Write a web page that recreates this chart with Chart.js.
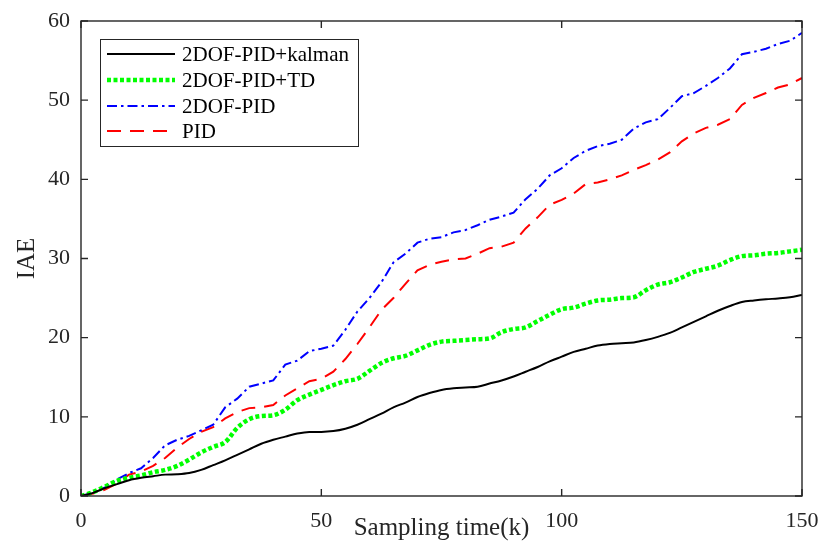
<!DOCTYPE html>
<html>
<head>
<meta charset="utf-8">
<script src="https://cdn.jsdelivr.net/npm/chart.js@4/dist/chart.umd.min.js"></script>
<style>
  html, body { margin: 0; padding: 0; background: #fff; }
  #wrap { width: 822px; height: 547px; }
</style>
</head>
<body>
<div id="wrap"><canvas id="iaeChart"></canvas></div>
<script>
// sampling instants, every 2.5 k
var kSteps = [];
for (var i = 0; i <= 60; i++) kSteps.push(i * 2.5);

var seriesNames = ['2DOF-PID+kalman', '2DOF-PID+TD', '2DOF-PID', 'PID'];

var iaeKalman = [0, 0.4, 1.0, 1.5, 2.0, 2.3, 2.5, 2.7, 2.75, 2.9, 3.3, 3.9, 4.5, 5.2, 5.9, 6.6, 7.1, 7.5, 7.9, 8.1,
  8.1, 8.2, 8.5, 9.0, 9.7, 10.4, 11.2, 11.8, 12.5, 13.0, 13.4, 13.6, 13.7, 13.8, 14.2, 14.6, 15.1, 15.7, 16.3, 17.0,
  17.6, 18.2, 18.6, 19.0, 19.2, 19.3, 19.4, 19.7, 20.1, 20.6, 21.3, 22.0, 22.7, 23.4, 24.0, 24.5, 24.7, 24.85, 24.95, 25.1, 25.4];

var iaeTD = [0, 0.5, 1.2, 1.9, 2.3, 2.6, 3.0, 3.3, 3.8, 4.6, 5.5, 6.2, 6.8, 8.6, 9.7, 10.1, 10.2, 10.9, 12.1, 12.8,
  13.4, 14.0, 14.5, 14.8, 15.8, 16.8, 17.4, 17.7, 18.4, 19.1, 19.5, 19.6, 19.7, 19.8, 19.9, 20.7, 21.1, 21.3, 22.1, 22.9,
  23.6, 23.8, 24.3, 24.7, 24.8, 25.0, 25.1, 26.0, 26.7, 27.0, 27.6, 28.3, 28.7, 29.1, 29.8, 30.3, 30.4, 30.6, 30.7, 30.9, 31.1];

var iae2dof = [0, 0.4, 1.1, 2.1, 2.9, 3.5, 4.8, 6.4, 7.1, 7.6, 8.3, 9.0, 11.2, 12.3, 13.8, 14.2, 14.6, 16.6, 17.1, 18.3,
  18.6, 19.0, 21.0, 23.3, 25.0, 27.0, 29.5, 30.6, 32.0, 32.5, 32.7, 33.3, 33.6, 34.2, 34.9, 35.3, 35.8, 37.5, 38.8, 40.5,
  41.4, 42.7, 43.6, 44.2, 44.5, 45.0, 46.4, 47.2, 47.6, 49.0, 50.5, 50.9, 51.8, 52.8, 54.0, 55.8, 56.1, 56.5, 57.1, 57.5, 58.5];

var iaePID = [0, 0.3, 0.8, 1.6, 2.7, 3.1, 3.8, 4.8, 6.1, 7.2, 8.1, 8.7, 9.8, 10.6, 11.1, 11.2, 11.5, 12.7, 13.6, 14.5,
  14.8, 15.7, 17.3, 19.2, 21.3, 23.5, 25.0, 26.8, 28.5, 29.2, 29.6, 29.9, 30.0, 30.6, 31.3, 31.5, 32.0, 33.8, 35.2, 36.8,
  37.4, 38.2, 39.4, 39.6, 40.0, 40.5, 41.2, 41.8, 42.5, 43.4, 44.8, 45.8, 46.5, 46.9, 47.6, 49.4, 50.3, 50.9, 51.6, 52.0, 52.8];

var xTicks = [0, 50, 100, 150];
var yTicks = [0, 10, 20, 30, 40, 50, 60];

function pts(vals) {
  return vals.map(function (v, i) { return { x: kSteps[i], y: v }; });
}

var axisColor = '#262626';
var serif = '"Liberation Serif", "Times New Roman", serif';

// box round the plot + inward ticks on all four sides (matlab look)
var boxPlugin = {
  id: 'boxTicks',
  afterDraw: function (chart) {
    var ctx = chart.ctx, a = chart.chartArea;
    var xs = chart.scales.x, ys = chart.scales.y;
    ctx.save();
    ctx.strokeStyle = axisColor;
    ctx.lineWidth = 1.4;
    ctx.strokeRect(a.left, a.top, a.right - a.left, a.bottom - a.top);
    var tl = 7;
    ctx.beginPath();
    xTicks.forEach(function (t) {
      var px = xs.getPixelForValue(t);
      ctx.moveTo(px, a.bottom); ctx.lineTo(px, a.bottom - tl);
      ctx.moveTo(px, a.top); ctx.lineTo(px, a.top + tl);
    });
    yTicks.forEach(function (t) {
      var py = ys.getPixelForValue(t);
      ctx.moveTo(a.left, py); ctx.lineTo(a.left + tl, py);
      ctx.moveTo(a.right, py); ctx.lineTo(a.right - tl, py);
    });
    ctx.stroke();
    ctx.restore();
  }
};

// legend box in the upper left corner of the plot
var legendPlugin = {
  id: 'boxLegend',
  afterDraw: function (chart) {
    var ctx = chart.ctx;
    var bx = 100, by = 39, bw = 258, bh = 107;
    var rows = [54, 80, 106, 131];
    ctx.save();
    ctx.fillStyle = '#fff';
    ctx.fillRect(bx, by, bw, bh);
    ctx.strokeStyle = axisColor;
    ctx.lineWidth = 1;
    ctx.strokeRect(bx + 0.5, by + 0.5, bw, bh);
    chart.data.datasets.forEach(function (ds, i) {
      var y = rows[i];
      ctx.beginPath();
      ctx.strokeStyle = ds.borderColor;
      ctx.lineWidth = ds.borderWidth;
      ctx.setLineDash(ds.borderDash || []);
      ctx.lineCap = 'butt';
      ctx.moveTo(107, y); ctx.lineTo(175, y);
      ctx.stroke();
      ctx.setLineDash([]);
      ctx.fillStyle = '#000';
      ctx.font = '21px ' + serif;
      ctx.textBaseline = 'middle';
      ctx.textAlign = 'left';
      ctx.fillText(ds.label, 182, y + 1);
    });
    ctx.restore();
  }
};

var chart = new Chart(document.getElementById('iaeChart'), {
  type: 'line',
  data: {
    datasets: [
      { label: seriesNames[0], data: pts(iaeKalman), borderColor: '#000000', borderWidth: 2,
        cubicInterpolationMode: 'monotone' },
      { label: seriesNames[1], data: pts(iaeTD), borderColor: '#00ff00', borderWidth: 4.5,
        borderDash: [4, 2.5], cubicInterpolationMode: 'monotone' },
      { label: seriesNames[2], data: pts(iae2dof), borderColor: '#0000ff', borderWidth: 2,
        borderDash: [10, 4, 2.5, 4], tension: 0 },
      { label: seriesNames[3], data: pts(iaePID), borderColor: '#ff0000', borderWidth: 2,
        borderDash: [14, 9], tension: 0 }
    ]
  },
  options: {
    responsive: true,
    maintainAspectRatio: false,
    animation: false,
    events: [],
    layout: { padding: { left: 0, right: 20, top: 21, bottom: 0 } },
    elements: { point: { radius: 0 } },
    plugins: {
      legend: { display: false },
      tooltip: { enabled: false }
    },
    scales: {
      x: {
        type: 'linear',
        min: 0, max: 150,
        grid: { display: false },
        border: { display: false },
        afterFit: function (s) { s.height = 51; s.paddingLeft = 0; s.paddingRight = 0; },
        afterBuildTicks: function (s) { s.ticks = xTicks.map(function (v) { return { value: v }; }); },
        ticks: { color: axisColor, padding: 4, maxRotation: 0, font: { family: serif, size: 22 } },
        title: { display: true, text: 'Sampling time(k)', color: axisColor,
          padding: { top: 0, bottom: 4 }, font: { family: serif, size: 25 } }
      },
      y: {
        min: 0, max: 60,
        grid: { display: false },
        border: { display: false },
        afterFit: function (s) { s.width = 81; s.paddingTop = 0; s.paddingBottom = 0; },
        afterBuildTicks: function (s) { s.ticks = yTicks.map(function (v) { return { value: v }; }); },
        ticks: { color: axisColor, padding: 3, font: { family: serif, size: 22 } },
        title: { display: true, text: 'IAE', color: axisColor,
          padding: { top: 12, bottom: 0 }, font: { family: serif, size: 25 } }
      }
    }
  },
  plugins: [boxPlugin, legendPlugin]
});
</script>
</body>
</html>
